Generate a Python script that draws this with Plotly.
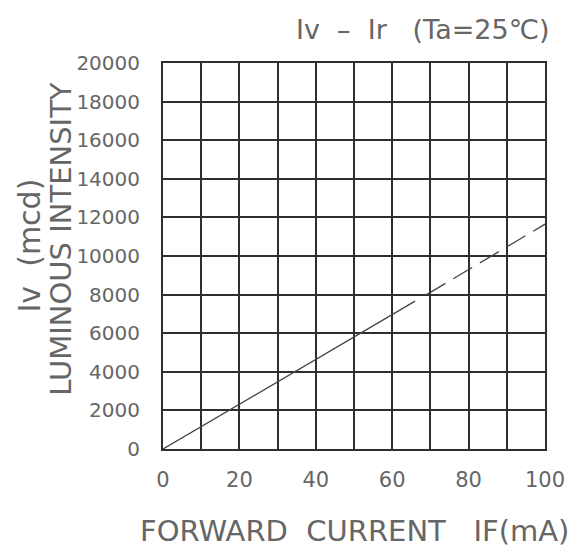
import plotly.graph_objects as go

# Forward current (mA) vs luminous intensity (mcd)
if_solid = [0, 66]
iv_solid = [0, 7660]
if_dashed = [69, 100]
iv_dashed = [8000, 11650]

x_ticks = [0, 20, 40, 60, 80, 100]
y_ticks = [0, 2000, 4000, 6000, 8000, 10000, 12000, 14000, 16000, 18000, 20000]

W, H = 577, 554
L, R, T, B = 163, 22, 63, 105
PW, PH = W - L - R, H - T - B

def px(xp):
    return (xp - L) / PW

def py(yp):
    return (H - B - yp) / PH

grid = "#2e2e2e"
txt = "#666666"
font = "DejaVu Sans"
nb = "\u00a0"

fig = go.Figure()
fig.add_trace(go.Scatter(x=if_solid, y=iv_solid, mode="lines",
                         line=dict(color="#444", width=1.3), showlegend=False))
fig.add_trace(go.Scatter(x=if_dashed, y=iv_dashed, mode="lines",
                         line=dict(color="#444", width=1.3, dash="22px,9px"),
                         showlegend=False))

fig.update_layout(
    width=W, height=H,
    margin=dict(l=L, r=R, t=T, b=B),
    paper_bgcolor="white", plot_bgcolor="white",
    font=dict(family=font, color=txt),
    xaxis=dict(range=[0, 100], tickvals=x_ticks, showgrid=True,
               gridcolor=grid, gridwidth=1.6,
               minor=dict(dtick=10, showgrid=True, gridcolor=grid, gridwidth=1.6),
               showline=True, linecolor=grid, linewidth=2, mirror=True,
               zeroline=False, tickfont=dict(size=21, color=txt),
               ticklabelstandoff=11),
    yaxis=dict(range=[0, 20000], tickvals=y_ticks, tickformat="d", showgrid=True,
               gridcolor=grid, gridwidth=1.6,
               showline=True, linecolor=grid, linewidth=2, mirror=True,
               zeroline=False, tickfont=dict(size=20, color=txt),
               ticklabelstandoff=17),
    annotations=[
        dict(text=f"Iv{nb*2}–{nb*2}Ir{nb*3}(Ta=25℃)", xref="paper", yref="paper",
             x=px(430), y=py(30), xanchor="center", yanchor="middle",
             showarrow=False, font=dict(size=27, color=txt)),
        dict(text=f"FORWARD{nb*2}CURRENT{nb*3}IF(mA)", xref="paper", yref="paper",
             x=px(360), y=py(531), xanchor="center", yanchor="middle",
             showarrow=False, font=dict(size=29, color=txt)),
        dict(text="LUMINOUS INTENSITY", xref="paper", yref="paper",
             x=px(58), y=py(239), xanchor="center", yanchor="middle",
             textangle=-90, showarrow=False, font=dict(size=29, color=txt)),
        dict(text=f"Iv{nb*2}(mcd)", xref="paper", yref="paper",
             x=px(26), y=py(245), xanchor="center", yanchor="middle",
             textangle=-90, showarrow=False, font=dict(size=30, color=txt)),
    ],
)

fig.write_html("out.html")
